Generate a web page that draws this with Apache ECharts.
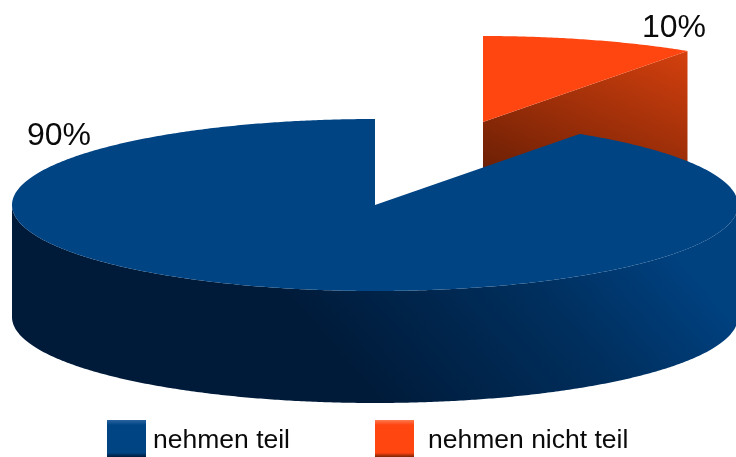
<!DOCTYPE html>
<html>
<head>
<meta charset="utf-8">
<style>html,body{margin:0;padding:0;background:#fff}#c{width:736px;height:457px}</style>
<script src="https://cdn.jsdelivr.net/npm/echarts@6/dist/echarts.min.js"></script>
</head>
<body>
<div id="c"></div>
<script>
// Data
var categories = ['nehmen teil', 'nehmen nicht teil'];
var shares = [90, 10];

// Layout of the tilted disc
var CX = 375, CY = 205, RX = 363, RY = 86, DEPTH = 112;
var WARP = 1.8; // perspective foreshortening of angles, degrees
var explode = [[0, 0], [108, -83]];
var labelPos = [[27, 136], [642, 28]];
var topColor = ['#004484', '#ff4510'];
var total = shares[0] + shares[1];

function warp(deg) {
  return deg - WARP * Math.sin(2 * deg * Math.PI / 180);
}
function pt(cx, cy, deg) {
  var r = warp(deg) * Math.PI / 180;
  return [cx + RX * Math.sin(r), cy - RY * Math.cos(r)];
}
function arc(cx, cy, a, b) {
  var out = [], n = Math.max(2, Math.ceil(Math.abs(b - a) * 2));
  for (var i = 0; i <= n; i++) out.push(pt(cx, cy, a + (b - a) * i / n));
  return out;
}
function linear(x, y, x2, y2, stops) {
  return { type: 'linear', x: x, y: y, x2: x2, y2: y2, global: true,
    colorStops: stops.map(function (s) { return { offset: s[0], color: s[1] }; }) };
}
function poly(points, fill, z2) {
  return { type: 'polygon', z2: z2, shape: { points: points }, style: { fill: fill } };
}

function renderer(idx) {
  return function (params, api) {
    var value = api.value(0);
    var sweep = value / total * 360;
    // the small slice starts at 12 o'clock, the big one follows clockwise
    var start = idx === 1 ? 0 : shares[1] / total * 360;
    var end = start + sweep;
    var cx = CX + explode[idx][0], cy = CY + explode[idx][1];
    var kids = [];
    if (idx === 0) {
      var a = Math.max(start, 90), b = Math.min(end, 270);
      var wall = arc(cx, cy, a, b).concat(arc(cx, cy + DEPTH, b, a));
      kids.push(poly(wall, linear(380, 400, 620, 190,
        [[0, '#001b3a'], [0.6, '#002f5e'], [1, '#004180']]), 1));
    } else {
      var tip = pt(cx, cy, end);
      var cut = [[cx, cy], tip, [tip[0], tip[1] + DEPTH], [cx, cy + DEPTH]];
      kids.push(poly(cut, linear(cx, cy + 43, cx + 72, cy - 126,
        [[0, '#6e2005'], [1, '#d4400e']]), 1));
    }
    var top = [[cx, cy]].concat(arc(cx, cy, start, end));
    kids.push(poly(top, topColor[idx], 2));
    kids.push({
      type: 'text', z2: 3, x: labelPos[idx][0], y: labelPos[idx][1],
      style: { text: value + '%', fill: '#0a0a0a', fontFamily: 'Liberation Sans', fontSize: 32,
        textAlign: 'left', textVerticalAlign: 'middle' }
    });
    return { type: 'group', children: kids };
  };
}

function swatch(c0, c1, c2) {
  return new echarts.graphic.LinearGradient(0, 0, 0, 1, [
    { offset: 0, color: c0 }, { offset: 0.12, color: c1 },
    { offset: 0.78, color: c1 }, { offset: 0.88, color: c2 }, { offset: 1, color: c2 }]);
}
function legendAt(left, name, color, padLeft) {
  return {
    left: left, top: 420, padding: 0, itemWidth: 39, itemHeight: 42,
    icon: 'rect', selectedMode: false,
    textStyle: { fontFamily: 'Liberation Sans', fontSize: 26.5, color: '#0a0a0a', lineHeight: 42,
      padding: [0, 0, 0, padLeft], verticalAlign: 'top' },
    data: [{ name: name, itemStyle: { color: color } }]
  };
}

var chart = echarts.init(document.getElementById('c'), null, { renderer: 'canvas' });
chart.setOption({
  animation: false,
  backgroundColor: '#fff',
  legend: [
    legendAt(107, categories[0], swatch('#2a63a0', '#004484', '#001c3b'), 2),
    legendAt(375, categories[1], swatch('#ff7a50', '#ff4510', '#7a2405'), 9)
  ],
  series: [
    { type: 'custom', name: categories[1], coordinateSystem: 'none', z: 1, silent: true,
      itemStyle: { color: topColor[1] }, renderItem: renderer(1), data: [[shares[1]]] },
    { type: 'custom', name: categories[0], coordinateSystem: 'none', z: 2, silent: true,
      itemStyle: { color: topColor[0] }, renderItem: renderer(0), data: [[shares[0]]] }
  ]
});
</script>
</body>
</html>
